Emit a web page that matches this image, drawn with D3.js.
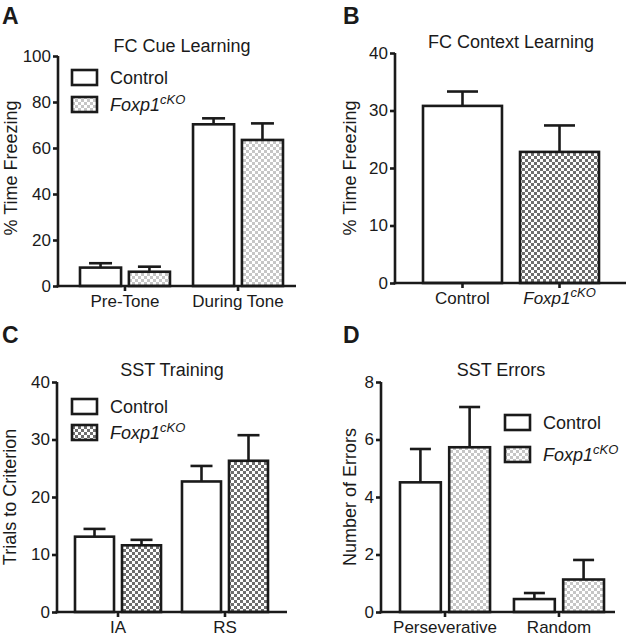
<!DOCTYPE html>
<html><head><meta charset="utf-8">
<script src="https://cdn.jsdelivr.net/npm/d3@7"></script>
<style>body{margin:0;background:#fff}text{font-family:"Liberation Sans",Arial,Helvetica,sans-serif;fill:#1a1a1a}</style>
</head><body>
<svg id="c" width="626" height="640"></svg>
<script>
// ---------- DATA ----------
const series = ["Control", "Foxp1cKO"];
// Panel A: FC Cue Learning
const catsA = ["Pre-Tone", "During Tone"];
const ctrlA = [8.0, 70.3], ctrlSemA = [1.9, 2.6];
const koA = [6.2, 63.5], koSemA = [2.2, 7.2];
const ticksA = [0, 20, 40, 60, 80, 100];
// Panel B: FC Context Learning
const catsB = ["Control", "Foxp1cKO"];
const valsB = [30.8, 22.8], semB = [2.5, 4.6];
const ticksB = [0, 10, 20, 30, 40];
// Panel C: SST Training
const catsC = ["IA", "RS"];
const ctrlC = [13.1, 22.7], ctrlSemC = [1.35, 2.7];
const koC = [11.6, 26.3], koSemC = [0.95, 4.45];
const ticksC = [0, 10, 20, 30, 40];
// Panel D: SST Errors
const catsD = ["Perseverative", "Random"];
const ctrlD = [4.51, 0.45], ctrlSemD = [1.16, 0.21];
const koD = [5.73, 1.13], koSemD = [1.4, 0.68];
const ticksD = [0, 2, 4, 6, 8];

// ---------- DRAW ----------
const svg = d3.select("#c");
const defs = svg.append("defs");
function checker(id, color, c) {
  const p = defs.append("pattern").attr("id", id).attr("patternUnits", "userSpaceOnUse")
    .attr("width", 2 * c).attr("height", 2 * c);
  p.append("rect").attr("width", 2 * c).attr("height", 2 * c).attr("fill", "#fff");
  p.append("rect").attr("width", c).attr("height", c).attr("fill", color);
  p.append("rect").attr("x", c).attr("y", c).attr("width", c).attr("height", c).attr("fill", color);
}
checker("light", "#c6c6c6", 3);
checker("dark", "#6e6e6e", 3);

const SW = 2.6;
function koLabel(sel, size, supSize) {
  sel.append("tspan").attr("font-style", "italic").text("Foxp1");
  sel.append("tspan").attr("font-style", "italic").attr("font-size", supSize).attr("dy", -7).text("cKO");
}

function panel(cfg) {
  const g = svg.append("g");
  const y = d3.scaleLinear().domain([0, cfg.ticks[cfg.ticks.length - 1]]).range([cfg.y0, cfg.y1]);
  const x = d3.scaleBand().domain(cfg.cats).range(cfg.barRange).paddingInner(cfg.pad);
  const inner = d3.scaleBand().domain(cfg.groups.map(d => d.name)).range([0, x.bandwidth()]).paddingInner(cfg.innerPad);
  // bars
  cfg.groups.forEach(grp => {
    cfg.cats.forEach((c, i) => {
      const bx = x(c) + (cfg.groups.length > 1 ? inner(grp.name) : 0);
      const bw = cfg.groups.length > 1 ? inner.bandwidth() : x.bandwidth();
      const v = grp.vals[i], e = grp.sem[i];
      const fill = grp.fill[i];
      g.append("rect").attr("x", bx).attr("y", y(v)).attr("width", bw).attr("height", y(0) - y(v))
        .attr("fill", fill).attr("stroke", "#1a1a1a").attr("stroke-width", SW);
      const cx = bx + bw / 2;
      g.append("line").attr("x1", cx).attr("x2", cx).attr("y1", y(v)).attr("y2", y(v + e))
        .attr("stroke", "#1a1a1a").attr("stroke-width", SW);
      g.append("line").attr("x1", cx - cfg.cap / 2).attr("x2", cx + cfg.cap / 2).attr("y1", y(v + e)).attr("y2", y(v + e))
        .attr("stroke", "#1a1a1a").attr("stroke-width", SW);
    });
  });
  // y axis
  const ya = g.append("g").attr("transform", `translate(${cfg.axX},0)`)
    .call(d3.axisLeft(y).tickValues(cfg.ticks).tickSize(5).tickSizeOuter(0).tickPadding(2));
  ya.select(".domain").remove();
  ya.selectAll("line").attr("stroke", "#1a1a1a").attr("stroke-width", SW);
  ya.selectAll("text").attr("font-size", 17).attr("fill", "#1a1a1a").attr("font-family", null);
  g.append("line").attr("x1", cfg.axX).attr("x2", cfg.axX).attr("y1", y(0) + SW / 2).attr("y2", y(cfg.ticks[cfg.ticks.length - 1]))
    .attr("stroke", "#1a1a1a").attr("stroke-width", SW);
  // x axis
  const xa = g.append("g").attr("transform", `translate(0,${y(0)})`)
    .call(d3.axisBottom(x).tickSize(5).tickSizeOuter(0).tickPadding(4));
  xa.select(".domain").remove();
  xa.selectAll("line").attr("stroke", "#1a1a1a").attr("stroke-width", SW);
  xa.selectAll("text").attr("font-size", 17).attr("fill", "#1a1a1a").attr("font-family", null)
    .each(function (d) {
      if (d === "Foxp1cKO") { const t = d3.select(this); t.text(null); koLabel(t, 17, 13); }
    });
  g.append("line").attr("x1", cfg.axX - SW / 2).attr("x2", cfg.axEnd).attr("y1", y(0)).attr("y2", y(0))
    .attr("stroke", "#1a1a1a").attr("stroke-width", SW);
  // title
  g.append("text").attr("x", cfg.titleX).attr("y", cfg.titleY).attr("text-anchor", "middle")
    .attr("font-size", 18).text(cfg.title);
  // y label
  g.append("text").attr("transform", `translate(${cfg.ylabX},${cfg.ylabY}) rotate(-90)`)
    .attr("text-anchor", "middle").attr("font-size", 18).text(cfg.ylab);
  // panel letter
  g.append("text").attr("x", cfg.letterX).attr("y", cfg.letterY).attr("font-size", 23)
    .attr("font-weight", "bold").attr("fill", "#000").text(cfg.letter);
  // legend
  if (cfg.legend) {
    const L = cfg.legend;
    cfg.groups.forEach((grp, i) => {
      const by = L.y + i * L.dy;
      g.append("rect").attr("x", L.x).attr("y", by).attr("width", 25).attr("height", 15)
        .attr("fill", grp.fill[0]).attr("stroke", "#1a1a1a").attr("stroke-width", SW);
      const t = g.append("text").attr("x", L.x + 38).attr("y", by + 14).attr("font-size", 18);
      if (grp.name === "Foxp1cKO") koLabel(t, 18, 13); else t.text(grp.name);
    });
  }
}

panel({
  letter: "A", letterX: 2, letterY: 24, title: "FC Cue Learning", titleX: 182, titleY: 52,
  ylab: "% Time Freezing", ylabX: 17, ylabY: 168,
  cats: catsA, ticks: ticksA, y0: 286, y1: 56, axX: 58, axEnd: 296,
  barRange: [80, 283], pad: 0.204, innerPad: 0.16, cap: 23,
  groups: [
    { name: series[0], vals: ctrlA, sem: ctrlSemA, fill: ["#fff", "#fff"] },
    { name: series[1], vals: koA, sem: koSemA, fill: ["url(#light)", "url(#light)"] }
  ],
  legend: { x: 72, y: 70, dy: 27 }
});
panel({
  letter: "B", letterX: 343, letterY: 24, title: "FC Context Learning", titleX: 511, titleY: 48,
  ylab: "% Time Freezing", ylabX: 356, ylabY: 168,
  cats: catsB, ticks: ticksB, y0: 283, y1: 53, axX: 395, axEnd: 626,
  barRange: [423, 599], pad: 0.186, innerPad: 0, cap: 31,
  groups: [
    { name: "B", vals: valsB, sem: semB, fill: ["#fff", "url(#dark)"] }
  ]
});
panel({
  letter: "C", letterX: 2, letterY: 343, title: "SST Training", titleX: 172, titleY: 376,
  ylab: "Trials to Criterion", ylabX: 16, ylabY: 497,
  cats: catsC, ticks: ticksC, y0: 612, y1: 382, axX: 57, axEnd: 287,
  barRange: [75, 268], pad: 0.196, innerPad: 0.17, cap: 22,
  groups: [
    { name: series[0], vals: ctrlC, sem: ctrlSemC, fill: ["#fff", "#fff"] },
    { name: series[1], vals: koC, sem: koSemC, fill: ["url(#dark)", "url(#dark)"] }
  ],
  legend: { x: 72, y: 399, dy: 26 }
});
panel({
  letter: "D", letterX: 343, letterY: 343, title: "SST Errors", titleX: 501, titleY: 376,
  ylab: "Number of Errors", ylabX: 356, ylabY: 497,
  cats: catsD, ticks: ticksD, y0: 612, y1: 382, axX: 381, axEnd: 615,
  barRange: [400, 604], pad: 0.21, innerPad: 0.17, cap: 21,
  groups: [
    { name: series[0], vals: ctrlD, sem: ctrlSemD, fill: ["#fff", "#fff"] },
    { name: series[1], vals: koD, sem: koSemD, fill: ["url(#light)", "url(#light)"] }
  ],
  legend: { x: 505, y: 415, dy: 32 }
});
</script>
</body></html>
